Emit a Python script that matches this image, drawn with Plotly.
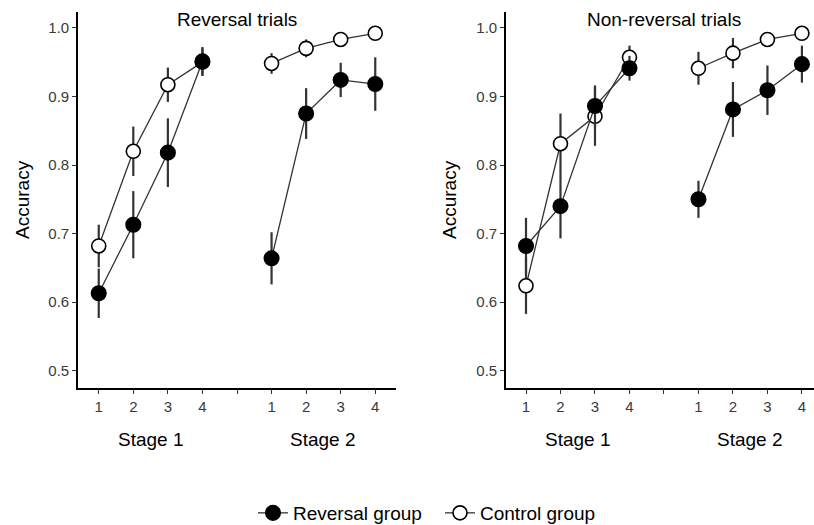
import plotly.graph_objects as go

stage_blocks = ["1", "2", "3", "4"]
stage_names = ["Stage 1", "Stage 2"]
panel_titles = ["Reversal trials", "Non-reversal trials"]
group_names = ["Reversal group", "Control group"]
y_ticks = [0.5, 0.6, 0.7, 0.8, 0.9, 1.0]
y_title = "Accuracy"

# Panel 1: Reversal trials
rev_rev_s1 = [0.613, 0.713, 0.818, 0.951]
rev_rev_s1_err = [0.036, 0.049, 0.050, 0.021]
rev_rev_s2 = [0.664, 0.875, 0.924, 0.918]
rev_rev_s2_err = [0.038, 0.037, 0.025, 0.039]
rev_ctl_s1 = [0.682, 0.820, 0.917, 0.950]
rev_ctl_s1_err = [0.031, 0.036, 0.025, 0.020]
rev_ctl_s2 = [0.948, 0.970, 0.983, 0.992]
rev_ctl_s2_err = [0.015, 0.013, 0.006, 0.005]

# Panel 2: Non-reversal trials
non_rev_s1 = [0.682, 0.740, 0.886, 0.941]
non_rev_s1_err = [0.041, 0.047, 0.030, 0.018]
non_rev_s2 = [0.750, 0.881, 0.909, 0.947]
non_rev_s2_err = [0.027, 0.040, 0.036, 0.027]
non_ctl_s1 = [0.624, 0.831, 0.871, 0.957]
non_ctl_s1_err = [0.041, 0.044, 0.043, 0.017]
non_ctl_s2 = [0.941, 0.963, 0.983, 0.992]
non_ctl_s2_err = [0.024, 0.022, 0.005, 0.005]

panels = [
    {"rev": [(rev_rev_s1, rev_rev_s1_err), (rev_rev_s2, rev_rev_s2_err)],
     "ctl": [(rev_ctl_s1, rev_ctl_s1_err), (rev_ctl_s2, rev_ctl_s2_err)]},
    {"rev": [(non_rev_s1, non_rev_s1_err), (non_rev_s2, non_rev_s2_err)],
     "ctl": [(non_ctl_s1, non_ctl_s1_err), (non_ctl_s2, non_ctl_s2_err)]},
]

W, H = 814, 525
MB = 60  # bottom margin reserved (legend lives there, container-referenced)
HP = H - MB  # plot-area height
FONT = "Liberation Sans, Arial, sans-serif"
LINE_COL = "#333333"
TXT = 19


def px_x(p):
    return p / W


def px_y(p):
    # pixel-from-top -> paper fraction (paper = plot area above bottom margin)
    return 1 - p / HP


def cont_y(p):
    return 1 - p / H


n = len(stage_blocks)


def xpos(stage_idx):
    return [i + 1 + stage_idx * (n + 1) for i in range(n)]


fig = go.Figure()

styles = {
    "ctl": dict(name=group_names[1], fill="white", legend="legend2", size=14),
    "rev": dict(name=group_names[0], fill="black", legend="legend", size=14.5),
}

for p, panel in enumerate(panels):
    xa = "x" if p == 0 else "x2"
    ya = "y" if p == 0 else "y2"
    for key in ["ctl", "rev"]:
        st = styles[key]
        for s, (vals, errs) in enumerate(panel[key]):
            fig.add_trace(go.Scatter(
                x=xpos(s), y=vals,
                mode="lines+markers",
                name=st["name"],
                legend=st["legend"],
                showlegend=(p == 0 and s == 0),
                line=dict(color=LINE_COL, width=1.3),
                marker=dict(size=st["size"], color=st["fill"],
                            line=dict(color="black", width=1.6)),
                error_y=dict(type="data", array=errs, visible=True,
                             color=LINE_COL, thickness=2.2, width=0),
                xaxis=xa, yaxis=ya,
            ))

tickvals = list(range(1, 2 * n + 2))
ticktext = stage_blocks + [""] + stage_blocks

ydom = [px_y(388), px_y(12)]
xdoms = [[px_x(78), px_x(396)], [px_x(506), 1.0]]
xranges = [[0.4, 9.6], [0.42, 9.35]]

common_axis = dict(
    showline=True, linecolor="black", linewidth=1.6,
    ticks="outside", ticklen=4, tickwidth=1.3, tickcolor="#333333",
    showgrid=False, zeroline=False,
    tickfont=dict(family=FONT, size=15, color="#3a3a3a"),
    automargin=False, fixedrange=True,
)

layout_axes = {}
for p in range(2):
    sx = "" if p == 0 else "2"
    layout_axes["xaxis" + sx] = dict(
        common_axis, domain=xdoms[p], range=xranges[p],
        tickvals=tickvals, ticktext=ticktext,
        anchor="y" + sx,
    )
    layout_axes["yaxis" + sx] = dict(
        common_axis, domain=ydom, range=[0.475, 1.023],
        tickvals=y_ticks, ticktext=[f"{v:.1f}" for v in y_ticks],
        anchor="x" + sx,
    )

annotations = []
acc_x = [22, 449]
for p in range(2):
    xr = "x" if p == 0 else "x2"
    annotations.append(dict(
        text=panel_titles[p], xref=xr, yref="paper",
        x=n + 1, y=px_y(20), showarrow=False,
        xanchor="center", yanchor="middle",
        font=dict(family=FONT, size=TXT, color="black"),
    ))
    for s in range(2):
        xs = xpos(s)
        annotations.append(dict(
            text=stage_names[s], xref=xr, yref="paper",
            x=(xs[0] + xs[-1]) / 2, y=px_y(439), showarrow=False,
            xanchor="center", yanchor="middle",
            font=dict(family=FONT, size=TXT, color="black"),
        ))
    annotations.append(dict(
        text=y_title, xref="paper", yref="paper",
        x=px_x(acc_x[p]), y=px_y(200), showarrow=False, textangle=-90,
        xanchor="center", yanchor="middle",
        font=dict(family=FONT, size=TXT, color="black"),
    ))

legend_common = dict(
    orientation="h", xref="container", yref="container",
    xanchor="left", yanchor="middle", y=cont_y(513),
    font=dict(family=FONT, size=TXT, color="black"),
    bgcolor="rgba(0,0,0,0)", borderwidth=0,
)

fig.update_layout(
    width=W, height=H,
    margin=dict(l=0, r=0, t=0, b=MB, autoexpand=False),
    paper_bgcolor="white", plot_bgcolor="white",
    showlegend=True,
    legend=dict(legend_common, x=px_x(253)),
    legend2=dict(legend_common, x=px_x(440)),
    annotations=annotations,
    **layout_axes,
)

fig.write_html("out.html")
